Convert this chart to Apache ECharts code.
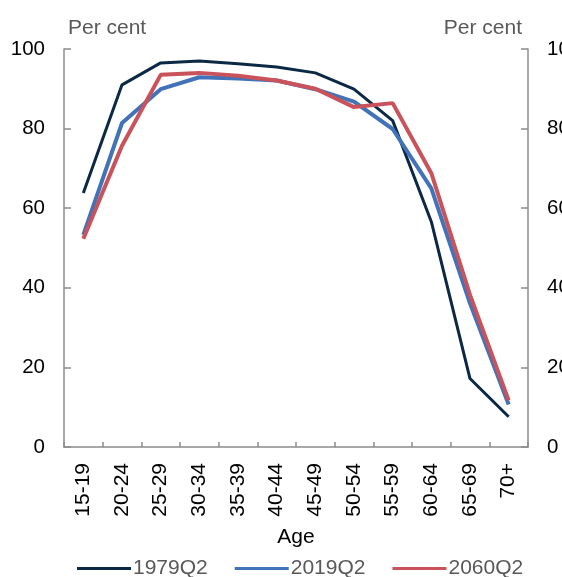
<!DOCTYPE html>
<html style="height: 100%">
<head>
  <meta charset="utf-8">
  <script src="https://cdn.jsdelivr.net/npm/echarts@6/dist/echarts.min.js"></script>
</head>
<body style="height: 100%; margin: 0">
  <div id="container" style="width: 562px; height: 577px"></div>
  <script type="text/javascript">
    var ages = ['15-19', '20-24', '25-29', '30-34', '35-39', '40-44', '45-49', '50-54', '55-59', '60-64', '65-69', '70+'];
    var s1979 = [63.8, 91.0, 96.5, 97.0, 96.3, 95.5, 94.0, 89.9, 82.0, 56.6, 17.2, 7.6];
    var s2019 = [53.3, 81.4, 89.9, 92.9, 92.6, 92.1, 89.9, 86.8, 79.9, 65.0, 36.1, 10.7];
    var s2060 = [52.3, 75.7, 93.5, 94.0, 93.3, 92.1, 90.0, 85.4, 86.4, 68.8, 38.2, 11.7];

    var font = 'Liberation Sans, Arial, sans-serif';
    var axisGrey = '#8c8c8c';

    function yAxis(pos) {
      return {
        type: 'value',
        position: pos,
        min: 0,
        max: 100,
        interval: 20,
        name: 'Per cent',
        nameLocation: 'end',
        nameGap: 21,
        nameTextStyle: {
          color: '#595959',
          fontSize: 21,
          fontFamily: font,
          verticalAlign: 'middle',
          align: pos === 'left' ? 'left' : 'right',
          padding: pos === 'left' ? [0, 0, 0, 4] : [0, 6, 0, 0]
        },
        axisLine: { show: true, lineStyle: { color: axisGrey, width: 1.5 } },
        axisTick: { show: true, inside: true, length: 7, lineStyle: { color: axisGrey, width: 1.5 } },
        axisLabel: { color: '#000', fontSize: 20.5, fontFamily: font, margin: 19 },
        splitLine: { show: false }
      };
    }

    var chart = echarts.init(document.getElementById('container'), null, { renderer: 'canvas' });
    var option = {
      animation: false,
      grid: { left: 64, right: 34, top: 49, bottom: 130, containLabel: false, outerBoundsMode: 'none' },
      legend: {
        left: 72,
        top: 553,
        icon: 'rect',
        itemWidth: 54,
        itemHeight: 3,
        itemGap: 27,
        textStyle: { color: '#595959', fontSize: 21, fontFamily: font, padding: [0, 0, 0, -3] },
        data: ['1979Q2', '2019Q2', '2060Q2']
      },
      xAxis: {
        type: 'category',
        data: ages,
        boundaryGap: true,
        name: 'Age',
        nameLocation: 'middle',
        nameGap: 80,
        nameTextStyle: { color: '#000', fontSize: 21, fontFamily: font },
        axisLine: { lineStyle: { color: axisGrey, width: 1.5 } },
        axisTick: { show: true, inside: true, length: 5, lineStyle: { color: axisGrey, width: 1.5 } },
        axisLabel: { rotate: 90, color: '#000', fontSize: 21, fontFamily: font, margin: 16, interval: 0 }
      },
      yAxis: [yAxis('left'), yAxis('right')],
      series: [
        {
          name: '1979Q2', type: 'line', data: s1979, showSymbol: false,
          color: '#0b2945', lineStyle: { width: 3, color: '#0b2945' }
        },
        {
          name: '2019Q2', type: 'line', data: s2019, showSymbol: false,
          color: '#4273b8', lineStyle: { width: 4, color: '#4273b8' }
        },
        {
          name: '2060Q2', type: 'line', data: s2060, showSymbol: false,
          color: '#c9525b', lineStyle: { width: 4, color: '#c9525b' }
        }
      ]
    };
    chart.setOption(option);
  </script>
</body>
</html>
